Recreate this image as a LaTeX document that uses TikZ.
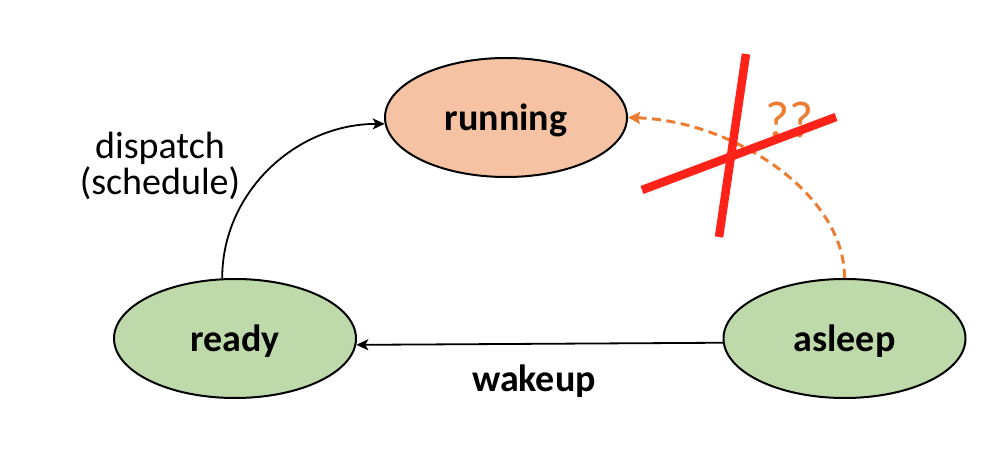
\documentclass[tikz,border=0pt]{standalone}
\usepackage{fontspec}
\setmainfont{Carlito}
\usetikzlibrary{shapes.geometric,arrows.meta}
\definecolor{peach}{HTML}{F5C3A3}
\definecolor{lgreen}{HTML}{BFDAAA}
\definecolor{xred}{HTML}{FF2218}
\definecolor{xorange}{HTML}{ED7D31}
\tikzset{
  state/.style={ellipse, draw=black, line width=2pt, minimum width=242pt, minimum height=119pt, inner sep=0pt, text height=27pt, text depth=0pt, font=\fontsize{38}{40}\selectfont\bfseries},
  conn/.style={draw=black, line width=1.8pt, -{Stealth[length=12pt,width=11pt,inset=3pt]}},
  dashconn/.style={draw=xorange, line width=3pt, dash pattern=on 9pt off 5.5pt, -{Stealth[length=12pt,width=12pt,inset=2pt]}},
  lbl/.style={font=\fontsize{38}{36}\selectfont, align=center, inner sep=0pt},
  crossline/.style={draw=xred, line width=8.5pt}
}
\begin{document}
\begin{tikzpicture}[x=1pt,y=-1pt]
\useasboundingbox (0,0) rectangle (996,454);
\node[state, fill=peach] (running) at (506,117.5) {running};
\node[state, fill=lgreen] (ready) at (235,338.5) {ready};
\node[state, fill=lgreen] (asleep) at (844.5,338.5) {asleep};
% wakeup
\draw[conn] (asleep.182.6) -- (ready.357.4);
\node[lbl, font=\fontsize{38}{40}\selectfont\bfseries] (wakeuplbl) at (534,381) {wakeup};
% dispatch
\draw[conn] (ready.102.5) .. controls (222,193) and (295,124) .. (running.183);
\node[lbl] (displbl) at (160,166) {dispatch\\(schedule)};
% questionable transition
\node[inner sep=0pt, text=xorange, font=\fontsize{52}{54}\selectfont] (qq) at (790,120) {??};
\draw[dashconn] (asleep.north) .. controls (845,195) and (735,121) .. (running.east);
% cross
\coordinate (c1a) at (642,190);
\coordinate (c1b) at (836,117);
\coordinate (c2a) at (746,54);
\coordinate (c2b) at (719,237);
\draw[crossline] (c1a) -- (c1b);
\draw[crossline] (c2a) -- (c2b);
\end{tikzpicture}
\end{document}
